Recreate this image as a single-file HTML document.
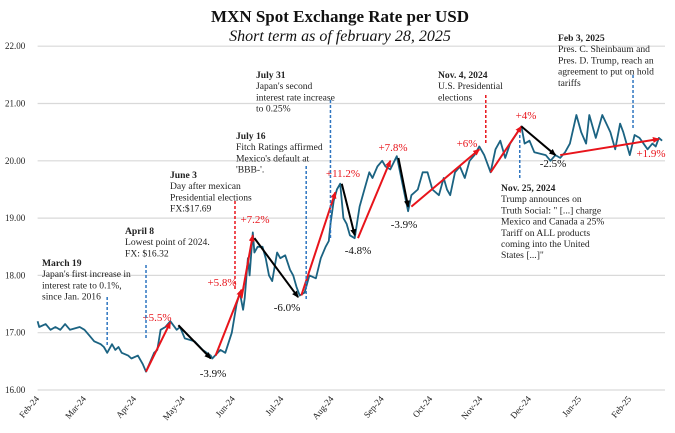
<!DOCTYPE html>
<html><head><meta charset="utf-8"><style>
html,body{margin:0;padding:0;background:#fff;}
svg{display:block;font-family:"Liberation Serif",serif;}
</style></head><body>
<svg id="c" width="675" height="433" viewBox="0 0 675 433">
<text x="340" y="22" text-anchor="middle" font-size="17" font-weight="bold" fill="#111">MXN Spot Exchange Rate per USD</text>
<text x="340" y="41" text-anchor="middle" font-size="16" font-style="italic" fill="#111">Short term as of february 28, 2025</text>
<defs>
<marker id="ar" markerWidth="8" markerHeight="8" refX="6" refY="3" orient="auto" markerUnits="userSpaceOnUse"><path d="M0,0 L7,3 L0,6 z" fill="#e8141b"/></marker>
<marker id="ab" markerWidth="8" markerHeight="8" refX="6" refY="3" orient="auto" markerUnits="userSpaceOnUse"><path d="M0,0 L7,3 L0,6 z" fill="#000"/></marker>
</defs>
<g id="grid"></g><g id="series"></g><g id="arrows"></g><g id="notes"></g>
</svg>
<script>
const yTicks=[16,17,18,19,20,21,22];
const monthLabels=["Feb-24","Mar-24","Apr-24","May-24","Jun-24","Jul-24","Aug-24","Sep-24","Oct-24","Nov-24","Dec-24","Jan-25","Feb-25"];
const monthDays=[0,29,60,90,121,151,182,213,243,274,304,335,366];
const days=[0,1,5,8,11,14,17,20,26,29,32,35,39,41,43,46,48,50,52,56,58,62,65,67,72,74,76,79,82,86,88,91,97,102,107,108,113,116,120,123,125,127,128,130,131,133,134,136,139,141,143,145,148,150,153,156,158,160,162,165,168,172,175,178,180,181,183,185,187,189,191,193,196,199,202,205,207,210,213,215,218,222,229,231,235,238,241,244,248,251,253,255,258,261,264,267,270,273,276,280,283,286,289,292,299,301,304,307,314,317,320,323,326,329,333,336,339,341,345,349,354,357,360,362,366,369,372,377,380,382,384,386];
const rates=[17.2,17.1,17.15,17.05,17.1,17.05,17.15,17.05,17.1,17.05,16.95,16.85,16.8,16.75,16.65,16.8,16.7,16.75,16.65,16.6,16.55,16.6,16.45,16.32,16.65,16.7,17.05,17.1,17.2,17.05,17.1,16.9,16.85,16.7,16.6,16.55,16.7,16.65,17.0,17.5,17.7,17.4,17.6,18.3,18.0,18.75,18.4,18.5,18.5,18.3,18.0,17.9,18.4,18.3,18.35,18.1,18.0,17.8,17.65,17.7,18.0,17.95,18.3,18.5,18.6,18.9,19.3,19.5,19.6,19.0,18.9,18.7,18.65,19.2,19.5,19.8,19.7,19.9,20.0,19.9,19.85,20.08,19.12,19.4,19.5,19.8,19.8,19.5,19.4,19.7,19.5,19.4,19.8,19.9,19.7,20.0,20.1,20.25,20.1,19.8,20.2,20.35,20.05,20.3,20.6,20.3,20.35,20.15,20.1,20.0,20.1,20.05,20.15,20.3,20.8,20.5,20.3,20.8,20.4,20.8,20.5,20.2,20.65,20.5,20.1,20.45,20.4,20.2,20.3,20.25,20.4,20.35];
const arrowStartDays=[67,87,110,126,134,163,188,198,223,231,280,299,323];
const arrowStartVals=[16.32,17.13,16.6,17.6,18.65,17.65,19.6,18.65,20.05,19.2,19.8,20.6,20.1];
const arrowEndDays=[82,107,126,133,161,184,196,218,229,273,299,320,384];
const arrowEndVals=[17.18,16.55,17.75,18.7,17.62,19.45,18.7,20.0,19.2,20.2,20.6,20.1,20.38];
const arrowUp=[1,0,1,1,0,1,0,1,0,1,1,0,1];
const pctLabels=["+5.5%","-3.9%","+5.8%","+7.2%","-6.0%","+11.2%","-4.8%","+7.8%","-3.9%","+6%","+4%","-2.5%","+1.9%"];
const eventDays=[43,67,122,166,181,277,298,368];
const eventTop=[297,265,201,166,100,95,135,75];
const eventBottom=[345,340,290,300,240,145,180,130];
const eventRed=[0,0,1,0,0,1,0,0];

const NS="http://www.w3.org/2000/svg";
const X0=37.6,XS=1.618,Y0=390,YS=57.3,XR=665;
const xs=d=>X0+XS*d, ys=v=>Y0-(v-16)*YS;
function mk(tag,attrs,parent){const e=document.createElementNS(NS,tag);for(const k in attrs)e.setAttribute(k,attrs[k]);parent.appendChild(e);return e;}
const grid=document.getElementById('grid'),ser=document.getElementById('series'),arr=document.getElementById('arrows'),notes=document.getElementById('notes');
yTicks.forEach(v=>{
 const l=mk('line',{x1:X0,x2:XR,y1:ys(v),y2:ys(v),stroke:'#d9d9d9','stroke-width':1.2},grid);
 
 
 const t=mk('text',{x:5,y:ys(v)+3,'font-size':9,fill:'#222'},grid);t.textContent=v.toFixed(2);
 
 
});
monthLabels.forEach((m,i)=>{
 const x=xs(monthDays[i])+2,y=399;
 const t=mk('text',{x:x,y:y,'font-size':9,fill:'#222','text-anchor':'end',transform:`rotate(-50 ${x} ${y})`},grid);t.textContent=m;
 
 
});
eventDays.forEach((d,i)=>{
 const l=mk('line',{x1:xs(d),x2:xs(d),y1:eventTop[i],y2:eventBottom[i],stroke:eventRed[i]?'#e8141b':'#2e75c0','stroke-width':1.5,'stroke-dasharray':'3,2'},notes);
 
 
});
const path=mk('path',{d:days.map((d,i)=>(i?'L':'M')+xs(d).toFixed(1)+','+ys(rates[i]).toFixed(1)).join(''),fill:'none',stroke:'#1b6382','stroke-width':1.8,'stroke-linejoin':'round'},ser);


const pctPos=[[157,317],[213,373],[222,282],[255,219],[287,307],[343,173],[358,250],[393,147],[404,224],[467,143],[526,115],[553,163],[651,153]];
arrowStartDays.forEach((d,i)=>{
 const red=arrowUp[i]===1;
 const l=mk('line',{x1:xs(d),y1:ys(arrowStartVals[i]),x2:xs(arrowEndDays[i]),y2:ys(arrowEndVals[i]),stroke:red?'#e8141b':'#000','stroke-width':2,'marker-end':red?'url(#ar)':'url(#ab)'},arr);
 
 
 const t=mk('text',{x:pctPos[i][0],y:pctPos[i][1]+4,'text-anchor':'middle','font-size':11,fill:red?'#e8141b':'#111'},arr);t.textContent=pctLabels[i];
 
 
});
const ann=[
 [42,263,["March 19","Japan's first increase in","interest rate to 0.1%,","since Jan. 2016"]],
 [125,231,["April 8","Lowest point of 2024.","FX: $16.32"]],
 [170,175,["June 3","Day after mexican","Presidential elections","FX:$17.69"]],
 [236,136,["July 16","Fitch Ratings affirmed","Mexico's default at","'BBB-'."]],
 [256,75,["July 31","Japan's second","interest rate increase","to 0.25%"]],
 [438,75,["Nov. 4, 2024","U.S. Presidential","elections"]],
 [501,188,["Nov. 25, 2024","Trump announces on","Truth Social: \" [...] charge","Mexico and Canada a 25%","Tariff on ALL products","coming into the United","States [...]\""]],
 [558,38,["Feb 3, 2025","Pres. C. Sheinbaum and","Pres. D. Trump, reach an","agreement to put on hold","tariffs"]]
];
ann.forEach(a=>{
 const t=mk('text',{x:a[0],y:a[1]+3,'font-size':9.6,fill:'#222'},notes);
 
 
 a[2].forEach((s,j)=>{const sp=mk('tspan',{x:a[0],dy:j?11.2:0},t);if(j===0)sp.setAttribute('font-weight','bold');sp.textContent=s;});
});
</script>
</body></html>
